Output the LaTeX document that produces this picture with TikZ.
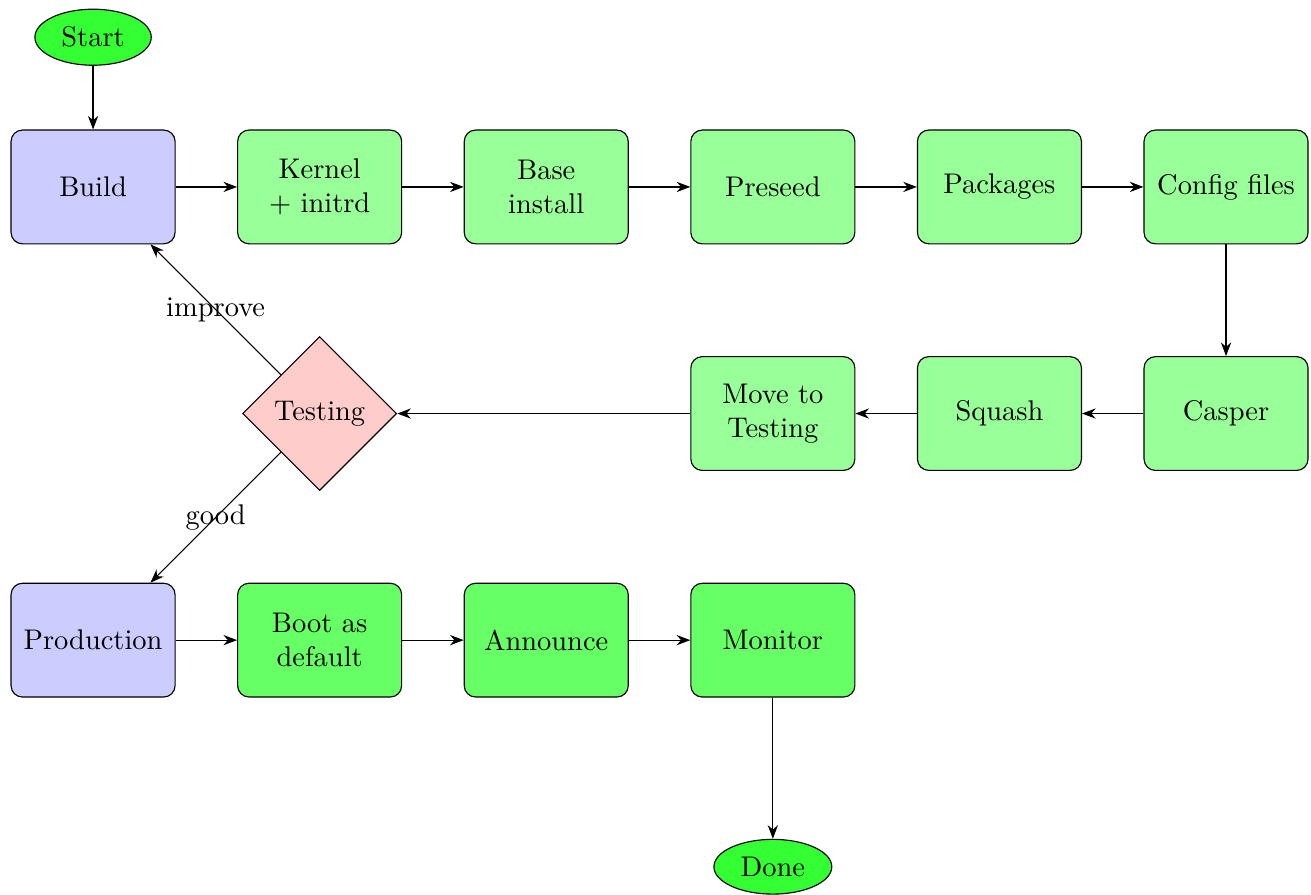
\documentclass[tikz,border=0pt]{standalone}
\usepackage{tikz}
\usetikzlibrary{shapes.geometric,arrows.meta}

\begin{document}
\begin{tikzpicture}[
    >=Stealth,
    block/.style={rectangle,draw,rounded corners,text width=5.1em,align=center,minimum height=4em},
    stage/.style={block,fill=green!40},
    release/.style={block,fill=green!60},
    phase/.style={block,fill=blue!20},
    terminal/.style={ellipse,draw,fill=green!80},
    decision/.style={diamond,draw,fill=red!20},
    line/.style={draw,->}]
  \useasboundingbox (-1.15,2.31) rectangle (15.05,-8.74);

  % build chain
  \node[terminal] (start) at (0,1.85) {Start};
  \node[phase] (build) at (0,0) {Build};
  \node[stage] (kernel) at (2.8,0) {Kernel\\+ initrd};
  \node[stage] (base) at (5.6,0) {Base\\install};
  \node[stage] (preseed) at (8.4,0) {Preseed};
  \node[stage] (packages) at (11.2,0) {Packages};
  \node[stage] (config) at (14.0,0) {Config files};

  % back towards testing
  \node[stage] (casper) at (14.0,-2.8) {Casper};
  \node[stage] (squash) at (11.2,-2.8) {Squash};
  \node[stage] (move) at (8.4,-2.8) {Move to\\Testing};
  \node[decision] (testing) at (2.8,-2.8) {Testing};

  % release
  \node[phase] (production) at (0,-5.6) {Production};
  \node[release] (boot) at (2.8,-5.6) {Boot as\\default};
  \node[release] (announce) at (5.6,-5.6) {Announce};
  \node[release] (monitor) at (8.4,-5.6) {Monitor};
  \node[terminal] (done) at (8.4,-8.4) {Done};

  \path[line] (start) -- (build);
  \path[line] (build) -- (kernel);
  \path[line] (kernel) -- (base);
  \path[line] (base) -- (preseed);
  \path[line] (preseed) -- (packages);
  \path[line] (packages) -- (config);
  \path[line] (config) -- (casper);
  \path[line] (casper) -- (squash);
  \path[line] (squash) -- (move);
  \path[line] (move) -- (testing);
  \path[line] (testing) -- node {improve} (build);
  \path[line] (testing) -- node {good} (production);
  \path[line] (production) -- (boot);
  \path[line] (boot) -- (announce);
  \path[line] (announce) -- (monitor);
  \path[line] (monitor) -- (done);
\end{tikzpicture}
\end{document}
